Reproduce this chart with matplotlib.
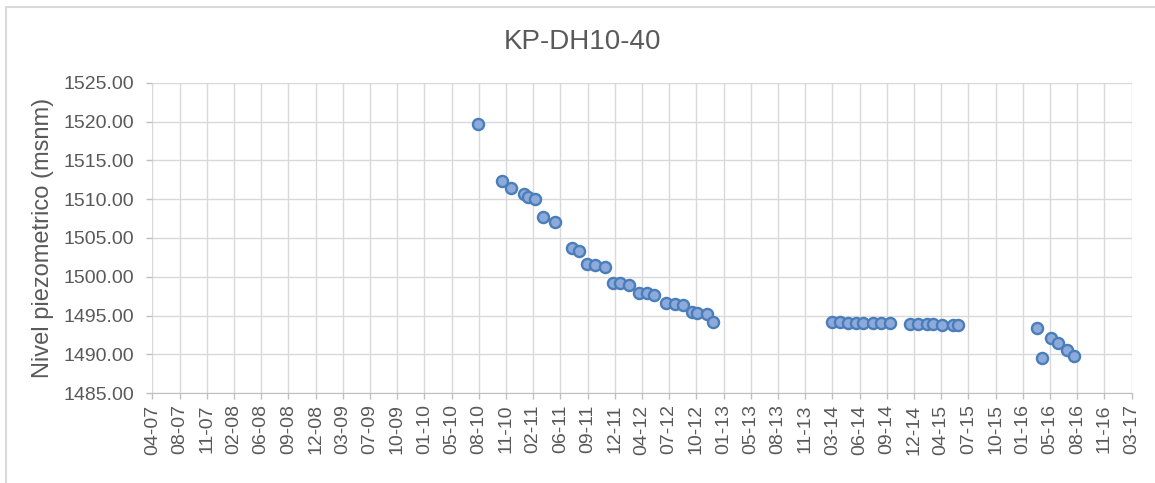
import datetime as dt
import matplotlib
matplotlib.use("Agg")
import matplotlib.pyplot as plt
import matplotlib.dates as mdates
from matplotlib.patches import Rectangle

plt.rcParams['font.family'] = ['Liberation Sans', 'DejaVu Sans']

# measurement dates and piezometric level (msnm)
dates = [
    "2010-08-08", "2010-11-05", "2010-12-08", "2011-01-24", "2011-02-08",
    "2011-03-04", "2011-04-04", "2011-05-17", "2011-07-18", "2011-08-15",
    "2011-09-12", "2011-10-12", "2011-11-17", "2011-12-18", "2012-01-12",
    "2012-02-14", "2012-03-22", "2012-04-19", "2012-05-16", "2012-06-28",
    "2012-07-30", "2012-08-29", "2012-10-01", "2012-10-19", "2012-11-25",
    "2012-12-19",
    "2014-02-27", "2014-03-31", "2014-04-27", "2014-05-28", "2014-06-23",
    "2014-07-28", "2014-08-28", "2014-09-29",
    "2014-12-12", "2015-01-10", "2015-02-11", "2015-03-07", "2015-04-08",
    "2015-05-20", "2015-06-05",
    "2016-03-24", "2016-04-11", "2016-05-13", "2016-06-10", "2016-07-10",
    "2016-08-05",
]
levels = [
    1519.68, 1512.38, 1511.48, 1510.67, 1510.24,
    1509.98, 1507.74, 1507.02, 1503.67, 1503.36,
    1501.69, 1501.56, 1501.27, 1499.17, 1499.21,
    1498.91, 1497.88, 1497.92, 1497.62, 1496.63,
    1496.50, 1496.37, 1495.47, 1495.34, 1495.25,
    1494.18,
    1494.22, 1494.20, 1494.09, 1494.09, 1494.09,
    1494.09, 1494.09, 1494.09,
    1493.92, 1493.92, 1493.92, 1493.92, 1493.83,
    1493.83, 1493.83,
    1493.37, 1489.58, 1492.12, 1491.44, 1490.58,
    1489.84,
]

title = "KP-DH10-40"
ylabel = "Nivel piezometrico (msnm)"
y_ticks = [1485, 1490, 1495, 1500, 1505, 1510, 1515, 1520, 1525]
x_start = dt.date(2007, 4, 28)
x_step_days = 100
n_xticks = 37

x = [dt.datetime.strptime(d, "%Y-%m-%d") for d in dates]
xt = [x_start + dt.timedelta(days=x_step_days * i) for i in range(n_xticks)]

fig = plt.figure(figsize=(11.55, 4.83), dpi=100)
# chart area border (cut by the image on the right and bottom)
fig.patches.append(Rectangle((5.5 / 1155, -0.1), 1.2, 1 - 7 / 483 + 0.1,
                             transform=fig.transFigure, fill=False,
                             edgecolor="#d9d9d9", linewidth=1.5))
ax = fig.add_axes([0.1319, 0.1857, 0.9798 - 0.1319, 0.8288 - 0.1857])

grey = "#595959"
ax.scatter(x, levels, s=64, facecolor="#8eaadb", edgecolor="#4a7ebb",
           linewidth=1.7, zorder=3, clip_on=False)

ax.set_xlim(xt[0], xt[-1])
ax.set_xticks(xt)
ax.xaxis.set_major_formatter(mdates.DateFormatter("%m-%y"))
ax.set_ylim(1485, 1525)
ax.set_yticks(y_ticks)
ax.set_yticklabels([f"{v:.2f}" for v in y_ticks])

ax.grid(True, color="#d9d9d9", linewidth=1)
ax.set_axisbelow(True)
for s in ["top", "right", "left"]:
    ax.spines[s].set_visible(False)
ax.spines["bottom"].set_color("#bfbfbf")
ax.tick_params(axis="x", rotation=90, colors="#bfbfbf", labelcolor=grey,
               labelsize=14, length=4, width=1, pad=4)
ax.tick_params(axis="y", colors="#bfbfbf", labelcolor=grey,
               labelsize=14, length=4, width=1, pad=9)

fig.text(43 / 1155, 1 - 238 / 483, ylabel, rotation=90, ha="center",
         va="center", fontsize=17, color=grey)
fig.text(583 / 1155, 1 - 42 / 483, title, ha="center", va="center",
         fontsize=20, color=grey)

fig.savefig("out.png", dpi=100)
